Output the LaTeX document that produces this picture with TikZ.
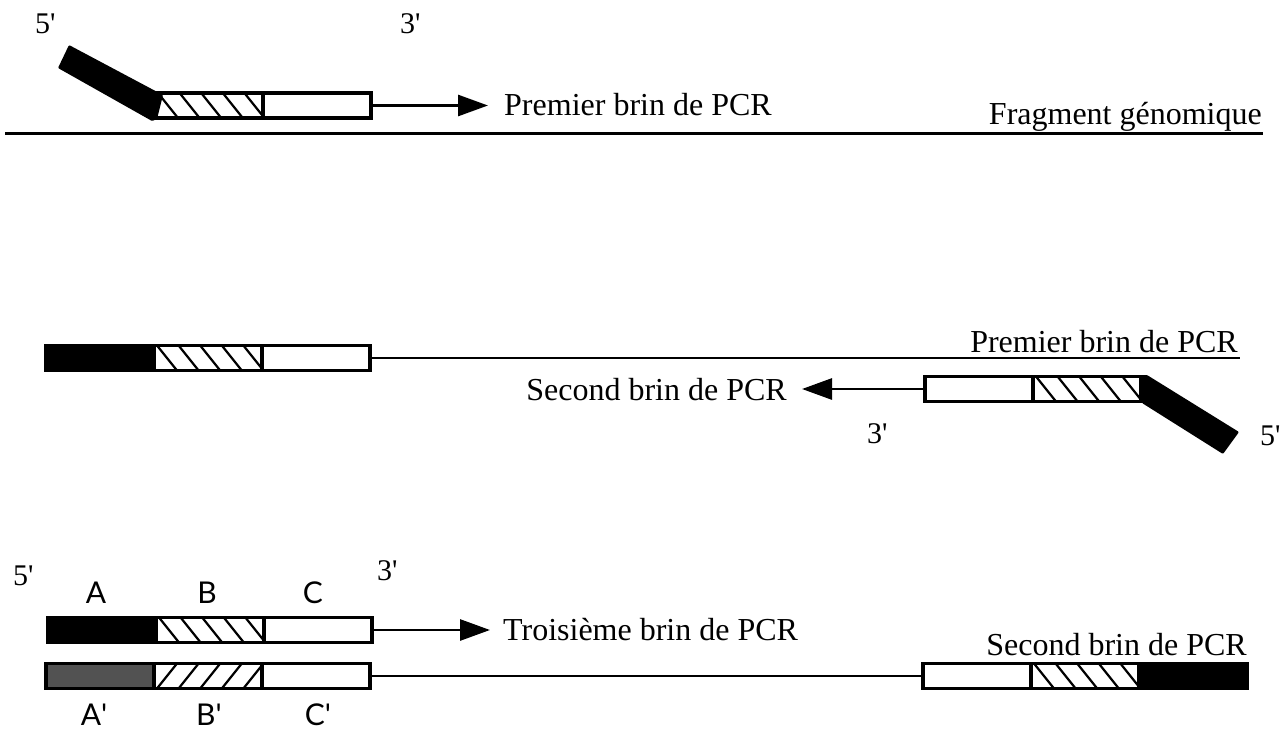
\documentclass[tikz,border=0pt]{standalone}
\usepackage{fontspec}
\setmainfont{Liberation Serif}
\newfontfamily\labfont{Lato}
\usetikzlibrary{arrows.meta,calc}
\begin{document}
\begin{tikzpicture}[x=1pt,y=-1pt,
  seg/.style={draw,line width=3.2pt,minimum width=108pt,minimum height=25pt,inner sep=0pt,outer sep=0pt,anchor=west},
  dark/.style={seg,fill=black},
  stip/.style={seg,fill=black!68},
  plain/.style={seg,fill=white},
  hatchback/.style={seg,fill=white,path picture={\foreach \i in {-1,...,5}{\draw[line width=2.2pt] ($(path picture bounding box.north west)+(\i*21.6+3,0)$) -- ++(20,25);}}},
  hatchfwd/.style={seg,fill=white,path picture={\foreach \i in {-1,...,5}{\draw[line width=2.2pt] ($(path picture bounding box.south west)+(\i*21.6+3,0)$) -- ++(20,-25);}}},
  strand/.style={line width=2.8pt},
  arr/.style={strand,-{Triangle[length=30pt,width=21pt]}},
  lab/.style={font=\fontsize{32}{38}\selectfont,inner sep=0pt},
  prime/.style={font=\fontsize{30}{34}\selectfont,inner sep=0pt},
  sans/.style={font=\labfont\fontsize{30}{34}\selectfont,inner sep=0pt},
  tag/.style={fill=black}
]
\useasboundingbox (0,0) rectangle (1286,731);

% ---------- row 1 ----------
\coordinate (g1) at (5,133);
\coordinate (g2) at (1263,133);
\draw[line width=3pt] (g1) -- (g2);
\node[lab,anchor=base east] (t2) at (1262,124) {Fragment génomique};

\node[hatchback] (b1) at (155,105.5) {};
\node[plain] (c1) at (b1.east) {};
\fill[tag,rounded corners=1pt] (58,68) -- (69,45) -- (163,95) -- (157,119) -- (152,121) -- cycle;
\coordinate (tip1) at (488,105.5);
\draw[arr] (c1.east) -- (tip1);
\node[lab,anchor=base west] (t1) at (504,115) {Premier brin de PCR};
\node[prime,anchor=base west] (p5a) at (35,33) {5\textquotesingle};
\node[prime,anchor=base west] (p3a) at (400,33) {3\textquotesingle};

% ---------- row 2 ----------
\node[dark] (a2) at (46,358) {};
\node[hatchback] (b2) at (a2.east) {};
\node[plain] (c2) at (b2.east) {};
\coordinate (e2) at (1240,358);
\draw[strand] (c2.east) -- (e2);
\node[lab,anchor=base east] (t3) at (1238,352) {Premier brin de PCR};

\node[plain] (c2r) at (925,389) {};
\node[hatchback] (b2r) at (c2r.east) {};
\fill[tag,rounded corners=1pt] (1140,375) -- (1147,375) -- (1239,432) -- (1223,454) -- (1142,403) -- cycle;
\coordinate (tip2) at (802,389);
\draw[arr] (c2r.west) -- (tip2);
\node[lab,anchor=base east] (t4) at (787,400) {Second brin de PCR};
\node[prime,anchor=base west] (p3b) at (867,443) {3\textquotesingle};
\node[prime,anchor=base west] (p5b) at (1260,445) {5\textquotesingle};

% ---------- row 3 ----------
\node[dark] (a3) at (48,630) {};
\node[hatchback] (b3) at (a3.east) {};
\node[plain] (c3) at (b3.east) {};
\coordinate (tip3) at (490,630);
\draw[arr] (c3.east) -- (tip3);
\node[lab,anchor=base west] (t5) at (503,640) {Troisième brin de PCR};
\node[prime,anchor=base west] (p5c) at (13,585) {5\textquotesingle};
\node[prime,anchor=base west] (p3c) at (377,580) {3\textquotesingle};
\node[sans,anchor=base] (A) at (96,603) {A};
\node[sans,anchor=base] (B) at (207,603) {B};
\node[sans,anchor=base] (C) at (313,603) {C};

\node[stip] (a3b) at (46,676) {};
\node[hatchfwd] (b3b) at (a3b.east) {};
\node[plain] (c3b) at (b3b.east) {};
\node[plain] (c3r) at (923,676) {};
\node[hatchback] (b3r) at (c3r.east) {};
\node[dark] (a3r) at (b3r.east) {};
\draw[strand] (c3b.east) -- (c3r.west);
\node[lab,anchor=base east] (t6) at (1247,655) {Second brin de PCR};
\node[sans,anchor=base] (Ap) at (94,725) {A\textquotesingle};
\node[sans,anchor=base] (Bp) at (209,725) {B\textquotesingle};
\node[sans,anchor=base] (Cp) at (318,725) {C\textquotesingle};
\end{tikzpicture}
\end{document}
